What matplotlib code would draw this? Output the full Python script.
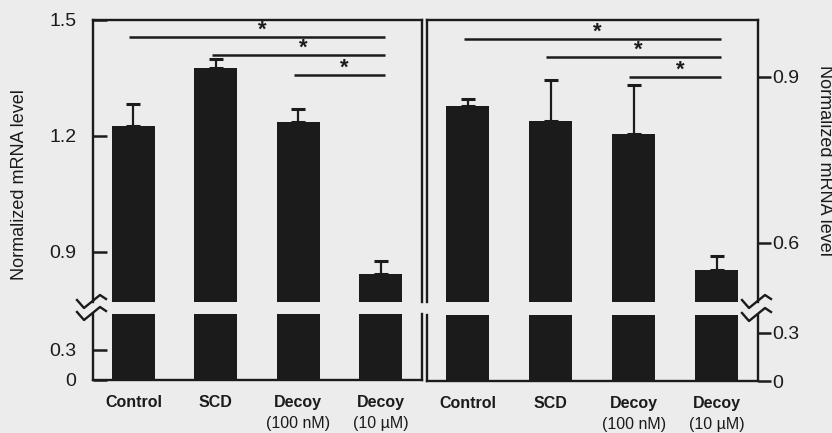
import numpy as np
import matplotlib
matplotlib.use("Agg")
import matplotlib.pyplot as plt
import matplotlib.transforms as mtransforms

plt.rcParams['font.family'] = ['Liberation Sans', 'DejaVu Sans']

# data
groups = ["Control", "SCD", "Decoy", "Decoy"]
doses = ["", "", "(100 nM)", "(10 \u00b5M)"]

left_mean = [1.225, 1.375, 1.235, 0.843]
left_err = [0.058, 0.025, 0.035, 0.034]

right_mean = [0.848, 0.820, 0.797, 0.551]
right_err = [0.013, 0.075, 0.089, 0.025]

# significance pairs (from, to)
pairs = [(0, 3), (1, 3), (2, 3)]
left_sig_y = [1.456, 1.409, 1.358]
right_sig_y = [0.969, 0.936, 0.900]

left_ticks_top = [0.9, 1.2, 1.5]
right_ticks_top = [0.6, 0.9]
ticks_bot = [0, 0.3]

ink = "#1b1b1b"
paper = "#ececec"

fig = plt.figure(figsize=(8.32, 4.33), dpi=100, facecolor=paper)
W, H = 832.0, 433.0


def box(x0, x1, ytop, ybot):
    return [x0 / W, 1 - ybot / H, (x1 - x0) / W, (ybot - ytop) / H]


axL_top = fig.add_axes(box(93, 422, 20, 302))
axL_bot = fig.add_axes(box(93, 422, 314, 380))
axR_top = fig.add_axes(box(427, 758, 20, 302))
axR_bot = fig.add_axes(box(427, 758, 315, 381))

x = np.arange(len(groups))


def zigzag(ax, where, yrel):
    # small break mark on an axis corner, drawn in pixels
    tr = fig.dpi_scale_trans + mtransforms.ScaledTranslation(where, yrel, ax.transAxes)
    px = np.array([-16, -9, 7, 13]) / 100.0
    py = np.array([2, -6, 7, 3]) / 100.0
    ax.plot(px, py, color=ink, lw=1.7, transform=tr, clip_on=False)


def panel(ax_top, ax_bot, mean, err, sig_y, top_lim, bot_lim, top_ticks, side):
    for ax in (ax_top, ax_bot):
        ax.set_facecolor("none")
        ax.bar(x, mean, width=0.52, color=ink, zorder=2)
        ax.set_xlim(-0.49, 3.5)
        for s in ax.spines.values():
            s.set_linewidth(1.7)
            s.set_color(ink)
    ax_top.set_ylim(*top_lim)
    ax_bot.set_ylim(*bot_lim)
    ax_top.spines['bottom'].set_visible(False)
    ax_bot.spines['top'].set_visible(False)

    ax_top.errorbar(x, mean, yerr=[np.zeros(len(err)), err], fmt='none',
                    ecolor=ink, elinewidth=1.6, capsize=4.7, capthick=2.2, zorder=1)

    for (a, b), yy in zip(pairs, sig_y):
        ax_top.hlines(yy, a - 0.05, b + 0.05, color=ink, lw=1.8)
        ax_top.annotate("*", xy=((a + b) / 2 + 0.06, yy), xytext=(0, 5),
                        textcoords='offset points', ha='center', va='center',
                        fontsize=16, fontweight='bold', color=ink)

    ax_top.set_xticks([])
    ax_bot.set_xticks(x)
    ax_bot.set_xticklabels(groups, fontsize=11.5, fontweight='bold', color=ink)
    ax_bot.tick_params(axis='x', length=0, pad=10.5)
    for i, d in enumerate(doses):
        if d:
            ax_bot.annotate(d, xy=(i, 0), xycoords=('data', 'axes fraction'),
                            xytext=(0, -31), textcoords='offset points',
                            ha='center', va='center', fontsize=11.5, color=ink)

    ax_top.set_yticks(top_ticks, [f"{t:g}" for t in top_ticks])
    ax_bot.set_yticks(ticks_bot, [f"{t:g}" for t in ticks_bot])

    for ax in (ax_top, ax_bot):
        if side == 'left':
            ax.yaxis.set_ticks_position('left')
            ax.tick_params(axis='y', direction='in', length=10, width=1.8,
                           pad=12, labelsize=14, color=ink, labelcolor=ink)
        else:
            ax.yaxis.set_ticks_position('right')
            ax.tick_params(axis='y', direction='out', length=9, width=1.8,
                           pad=1.5, labelsize=14, color=ink, labelcolor=ink)


panel(axL_top, axL_bot, left_mean, left_err, left_sig_y, (0.77, 1.5), (0, 0.66),
      left_ticks_top, 'left')
panel(axR_top, axR_bot, right_mean, right_err, right_sig_y, (0.493, 1.003), (0, 0.41),
      right_ticks_top, 'right')

zigzag(axL_top, 0, 0)
zigzag(axL_bot, 0, 1)
zigzag(axR_top, 1, 0)
zigzag(axR_bot, 1, 1)

fig.text(20 / W, 1 - 185 / H, "Normalized mRNA level", rotation=90,
         ha='center', va='center', fontsize=13, color=ink)
fig.text(825 / W, 1 - 160 / H, "Normalized mRNA level", rotation=270,
         ha='center', va='center', fontsize=13, color=ink)

fig.savefig("out.png", dpi=100, facecolor=paper)
